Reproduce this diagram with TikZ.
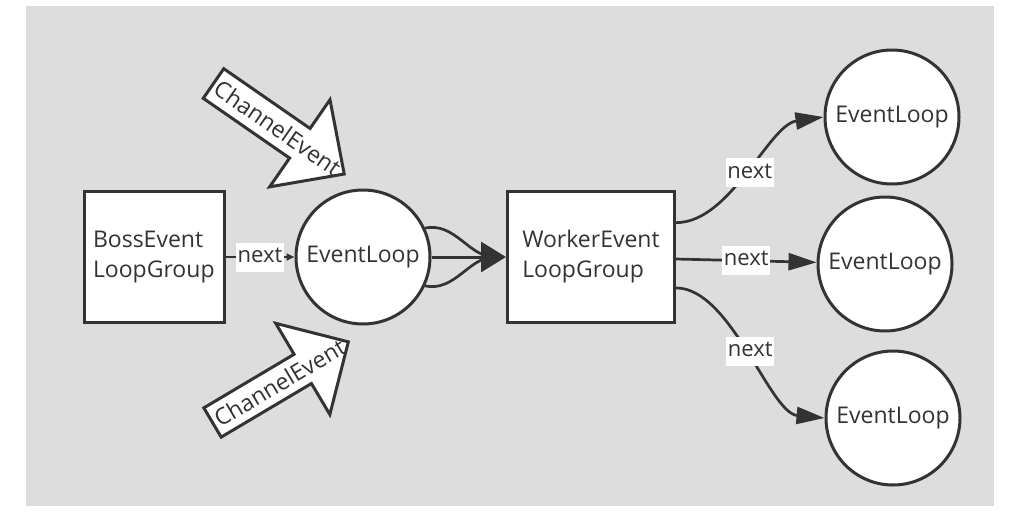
\documentclass[tikz,border=0pt]{standalone}
\usepackage{fontspec}
\setmainfont{Open Sans}
\usetikzlibrary{shapes.geometric, arrows.meta}
\definecolor{bgGray}{HTML}{DDDDDD}
\definecolor{lineGray}{HTML}{333333}
\tikzstyle{groupbox} = [rectangle, minimum height=131pt, align=left, draw=lineGray, fill=white, line width=3pt, text=lineGray, font=\fontsize{23}{30}\selectfont]
\tikzstyle{eventloop} = [circle, minimum size=134pt, inner sep=0pt, draw=lineGray, fill=white, line width=3pt, text=lineGray, font=\fontsize{23}{29}\selectfont]
\tikzstyle{nextlabel} = [fill=white, inner sep=1.5pt, text=lineGray, font=\fontsize{22}{26}\selectfont\strut]
\tikzstyle{nextarrow} = [line width=2.7pt, draw=lineGray, -{Triangle[length=28pt,width=17pt]}]
\tikzstyle{bigarrow} = [line width=3pt, draw=lineGray, -{Triangle[length=25pt,width=30pt]}]
\tikzstyle{smallarrow} = [line width=2.7pt, draw=lineGray, -{Triangle[length=8pt,width=7pt]}]
\tikzstyle{bundle} = [line width=2.7pt, draw=lineGray]
\tikzstyle{eventblock} = [draw=lineGray, fill=white, line width=3pt, line join=miter]
\tikzstyle{eventtext} = [text=lineGray, inner sep=0pt, font=\fontsize{23}{28}\selectfont]

\begin{document}
\begin{tikzpicture}[x=1pt, y=-1pt, node distance=209pt]
    % Background
    \useasboundingbox (0,0) rectangle (1021,517);
    \fill[bgGray] (26,6) rectangle (994,506);

    % Nodes
    \node (boss) [groupbox, minimum width=140pt, text width=122pt, inner xsep=9pt] at (154,257) {BossEvent\\LoopGroup};
    \node (loop) [eventloop, right of=boss] {EventLoop};
    \node (worker) [groupbox, minimum width=167pt, right of=loop, xshift=19pt] {WorkerEvent\\LoopGroup};
    \node (loopA) [eventloop, right of=worker, xshift=92pt, yshift=140pt] {EventLoop};
    \node (loopB) [eventloop, right of=worker, xshift=85pt, yshift=-7pt] {EventLoop};
    \node (loopC) [eventloop, right of=worker, xshift=93pt, yshift=-161pt] {EventLoop};

    % Channel events
    \begin{scope}[shift={(213.5,83.5)}, rotate=-34.7]
        \draw[eventblock] (0,-18) -- (105,-18) -- (105,-53) -- (159,0) -- (105,53) -- (105,18) -- (0,18) -- cycle;
        \node (eventTop) [eventtext, transform shape] at (78,0) {ChannelEvent};
    \end{scope}
    \begin{scope}[shift={(212.5,422.5)}, rotate=30.7]
        \draw[eventblock] (0,-17) -- (105,-17) -- (105,-53) -- (158,0) -- (105,53) -- (105,17) -- (0,17) -- cycle;
        \node (eventBottom) [eventtext, transform shape] at (78,0) {ChannelEvent};
    \end{scope}

    % Arrows
    \draw [smallarrow] (boss) -- node[nextlabel] {next} (loop);
    \coordinate (mergeIn) at ([xshift=-12pt]worker.west);
    \draw [bundle] (loop.25) .. controls +(30,-6) and +(-25,0) .. (mergeIn);
    \draw [bundle] (loop.-25) .. controls +(30,6) and +(-25,0) .. (mergeIn);
    \draw [bigarrow] (loop) -- (worker);
    \draw [nextarrow] (worker.22) .. controls +(55,0) and +(-55,8) .. node[nextlabel] {next} (loopA.west);
    \draw [nextarrow] (worker) -- node[nextlabel] {next} (loopB);
    \draw [nextarrow] (worker.-20) .. controls +(55,0) and +(-55,-5) .. node[nextlabel] {next} (loopC.west);
\end{tikzpicture}
\end{document}
